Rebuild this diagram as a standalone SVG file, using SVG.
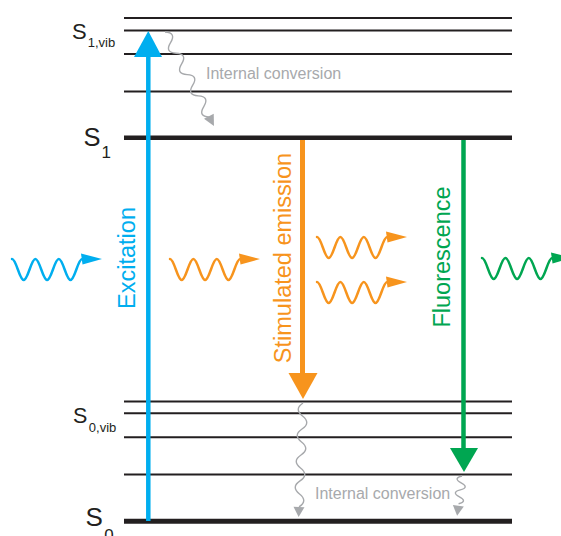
<svg xmlns="http://www.w3.org/2000/svg" width="561" height="536" viewBox="0 0 561 536">
<style>
text{font-family:"Liberation Sans",Arial,sans-serif}
.lv{stroke:#231F20;stroke-width:2}
.lvt{stroke:#231F20;stroke-width:4.5}
.wig{fill:none;stroke:#A7A9AC;stroke-width:1.4}
.ah{fill:#A7A9AC}
.ic{fill:#A7A9AC;font-size:16px}
.lbl{fill:#231F20}
.rot{font-size:23.5px;text-anchor:middle}
</style>
<defs>
<g id="photon">
<path d="M0,0 C4.3,0 7.4,21 11.7,21 S19.1,0 23.4,0 S30.8,21 35.1,21 S42.5,0 46.8,0 S54.2,21 58.5,21 S65.9,0 70.2,0" fill="none" stroke="currentColor" stroke-width="2.5" stroke-linecap="round"/>
<polygon points="69,-5.5 90,0 70.5,5.5" fill="currentColor"/>
</g>
</defs>
<rect width="561" height="536" fill="#fff"/>
<g id="levels">
<line class="lv" x1="124" y1="18" x2="512" y2="18"/>
<line class="lv" x1="124" y1="30.5" x2="512" y2="30.5"/>
<line class="lv" x1="124" y1="54" x2="512" y2="54"/>
<line class="lv" x1="124" y1="91.5" x2="512" y2="91.5"/>
<line class="lvt" x1="124" y1="137.7" x2="512" y2="137.7"/>
<line class="lv" x1="124" y1="401.5" x2="512" y2="401.5"/>
<line class="lv" x1="124" y1="413.3" x2="512" y2="413.3"/>
<line class="lv" x1="124" y1="437.3" x2="512" y2="437.3"/>
<line class="lv" x1="124" y1="474.5" x2="512" y2="474.5"/>
<line stroke="#231F20" stroke-width="5" x1="124" y1="521.3" x2="512" y2="521.3"/>
</g>
<g id="level-labels" class="lbl">
<text x="72" y="39" font-size="22">S<tspan font-size="13" dy="8" dx="1">1,vib</tspan></text>
<text x="83.5" y="146" font-size="25.5">S<tspan font-size="17" dy="11.5" dx="1">1</tspan></text>
<text x="73" y="423" font-size="21.5">S<tspan font-size="13" dy="9" dx="1.5">0,vib</tspan></text>
<text x="85.5" y="526" font-size="26">S<tspan font-size="17" dy="15" dx="1.5">0</tspan></text>
</g>
<g id="connectors">
<g transform="translate(165,32) rotate(-27.5)">
<path class="wig" d="M0,0 q10,6 0,12 t0,12 t0,12 t0,12 t0,12 t0,12 t0,12 t0,12"/>
<polygon class="ah" points="-5.5,95 5.5,95 0,106"/>
</g>
<g transform="translate(303,403) rotate(2.2)">
<path class="wig" d="M0,0 q-9,6.5 0,13 t0,13 t0,13 t0,13 t0,13 t0,13 t0,13 t0,13"/>
<polygon class="ah" points="-5.5,104 5.5,104 0,114"/>
</g>
<g transform="translate(462,476) rotate(7)">
<path class="wig" d="M0,0 q-9,3.5 0,7 t0,7 t0,7 t0,7"/>
<polygon class="ah" points="-5.5,30 5.5,30 0,40"/>
</g>
</g>
<g id="excitation">
<line x1="148.3" y1="521" x2="148.3" y2="55" stroke="#00AEEF" stroke-width="4.5"/>
<polygon points="134,57 162,57 148.3,31" fill="#00AEEF"/>
<text class="rot" fill="#00AEEF" transform="translate(135,258) rotate(-90)">Excitation</text>
</g>
<g id="stimulated-emission">
<line x1="302.5" y1="140" x2="302.5" y2="375" stroke="#F7941D" stroke-width="5"/>
<polygon points="288.5,373 317.5,373 303,399" fill="#F7941D"/>
<text class="rot" fill="#F7941D" transform="translate(291,258) rotate(-90)">Stimulated emission</text>
</g>
<g id="fluorescence">
<line x1="463.5" y1="140" x2="463.5" y2="450" stroke="#00A651" stroke-width="4.5"/>
<polygon points="450,448 478,448 464,472" fill="#00A651"/>
<text class="rot" fill="#00A651" transform="translate(450,257) rotate(-90)">Fluorescence</text>
</g>
<g id="photons">
<use href="#photon" transform="translate(12,259)" color="#00AEEF"/>
<use href="#photon" transform="translate(170,259)" color="#F7941D"/>
<use href="#photon" transform="translate(317,237)" color="#F7941D"/>
<use href="#photon" transform="translate(317,282)" color="#F7941D"/>
<use href="#photon" transform="translate(482,258)" color="#00A651"/>
</g>
<g id="ic-labels">
<text class="ic" x="206" y="79">Internal conversion</text>
<text class="ic" x="315" y="499">Internal conversion</text>
</g>
</svg>
